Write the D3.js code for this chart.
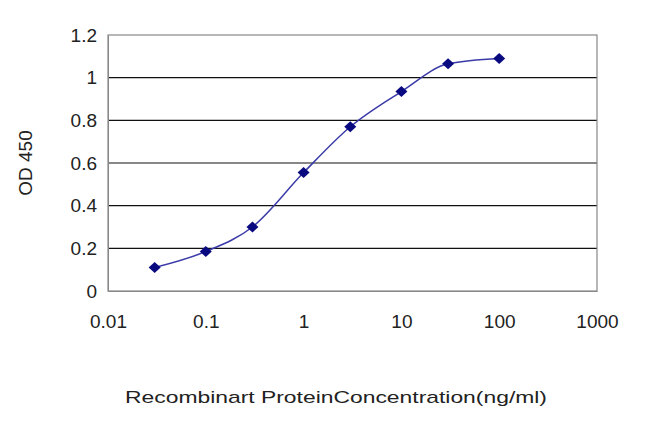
<!DOCTYPE html>
<html>
<head>
<meta charset="utf-8">
<script src="https://cdn.jsdelivr.net/npm/d3@7"></script>
<style>
body { margin: 0; background: #fff; }
text { font-family: "Liberation Sans", Arial, sans-serif; fill: #222; }
</style>
</head>
<body>
<div id="chart"></div>
<script>
// data
var concentrations = [0.03, 0.1, 0.3, 1, 3, 10, 30, 100];
var odValues = [0.11, 0.185, 0.30, 0.555, 0.77, 0.935, 1.065, 1.09];
var xTicks = [0.01, 0.1, 1, 10, 100, 1000];
var xTickLabels = ["0.01", "0.1", "1", "10", "100", "1000"];
var yTicks = [0, 0.2, 0.4, 0.6, 0.8, 1, 1.2];
var yTickLabels = ["0", "0.2", "0.4", "0.6", "0.8", "1", "1.2"];

var svgWidth = 650, svgHeight = 433;
var margin = { top: 35, right: 53, bottom: 142, left: 108 };
var chartWidth = svgWidth - margin.left - margin.right;
var chartHeight = svgHeight - margin.top - margin.bottom;

var svg = d3.select("#chart").append("svg")
    .attr("width", svgWidth)
    .attr("height", svgHeight);

var chartGroup = svg.append("g")
    .attr("transform", `translate(${margin.left}, ${margin.top})`);

var xScale = d3.scaleLog().domain([0.01, 1000]).range([0, chartWidth]);
var yScale = d3.scaleLinear().domain([0, 1.2]).range([chartHeight, 0]);

// grid lines
chartGroup.selectAll("line.grid")
    .data(yTicks.slice(1, -1))
    .enter().append("line")
    .attr("x1", 0).attr("x2", chartWidth)
    .attr("y1", d => yScale(d)).attr("y2", d => yScale(d))
    .attr("stroke", "#111").attr("stroke-width", 1.2);

// plot frame
chartGroup.append("rect")
    .attr("width", chartWidth).attr("height", chartHeight)
    .attr("fill", "none").attr("stroke", "#888").attr("stroke-width", 1.2);

// axes
var xAxis = d3.axisBottom(xScale).tickValues(xTicks)
    .tickFormat((d, i) => xTickLabels[i]).tickSize(0).tickPadding(24);
var gx = chartGroup.append("g")
    .attr("transform", `translate(0, ${chartHeight})`)
    .call(xAxis);
gx.select(".domain").attr("stroke", "#888");
gx.selectAll("text").attr("font-size", "19px").style("font-family", "Liberation Sans, Arial, sans-serif").attr("fill", "#222");

var yAxis = d3.axisLeft(yScale).tickValues(yTicks)
    .tickFormat((d, i) => yTickLabels[i]).tickSize(0).tickPadding(11);
var gy = chartGroup.append("g").call(yAxis);
gy.select(".domain").attr("stroke", "#888");
gy.selectAll("text").attr("font-size", "19px").style("font-family", "Liberation Sans, Arial, sans-serif").attr("fill", "#222");

// curve
var points = concentrations.map((c, i) => [c, odValues[i]]);
var line = d3.line()
    .x(d => xScale(d[0])).y(d => yScale(d[1]))
    .curve(d3.curveMonotoneX);
chartGroup.append("path")
    .datum(points)
    .attr("d", line)
    .attr("fill", "none")
    .attr("stroke", "#3a3aa8")
    .attr("stroke-width", 1.5);

// diamond markers (a bit squat, like the original)
chartGroup.selectAll("path.marker")
    .data(points)
    .enter().append("path")
    .attr("class", "marker")
    .attr("d", "M0,-5.5L6,0L0,5.5L-6,0Z")
    .attr("transform", d => `translate(${xScale(d[0])}, ${yScale(d[1])})`)
    .attr("fill", "#0a0a80");

// axis labels
svg.append("text")
    .attr("transform", `translate(32, ${margin.top + chartHeight / 2}) rotate(-90)`)
    .attr("text-anchor", "middle")
    .attr("font-size", "19px")
    .text("OD 450");

svg.append("text")
    .attr("x", 125).attr("y", 403)
    .attr("font-size", "17px")
    .attr("textLength", 422)
    .attr("lengthAdjust", "spacingAndGlyphs")
    .text("Recombinart ProteinConcentration(ng/ml)");
</script>
</body>
</html>
